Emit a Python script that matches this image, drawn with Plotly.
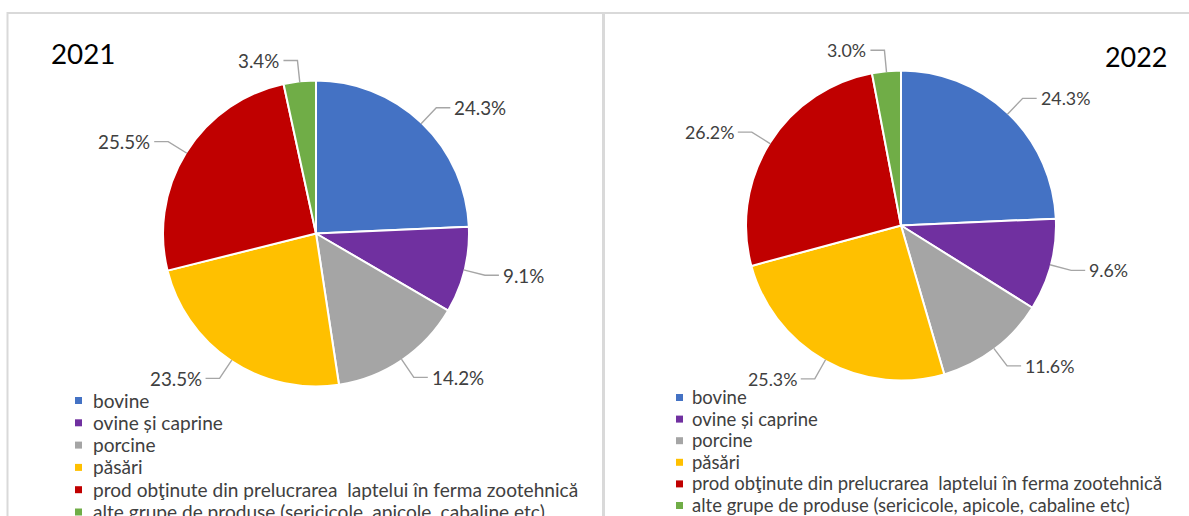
import math
import plotly.graph_objects as go

W, H = 1189, 516

categories = [
    "bovine",
    "ovine și caprine",
    "porcine",
    "păsări",
    "prod obţinute din prelucrarea  laptelui în ferma zootehnică",
    "alte grupe de produse (sericicole, apicole, cabaline etc)",
]
values_2021 = [24.3, 9.1, 14.2, 23.5, 25.5, 3.4]
values_2022 = [24.3, 9.6, 11.6, 25.3, 26.2, 3.0]
years = ["2021", "2022"]

colors = ["#4472C4", "#7030A0", "#A5A5A5", "#FFC000", "#C00000", "#70AD47"]
FONT = "Lato, 'Noto Sans', sans-serif"
TEXT_COLOR = "#404040"

# per-panel layout settings (pixels)
panels = [
    dict(cx=316, cy=233.5, r=153, label_size=18.8,
         title_x=83.5, title_y=53.5, title_size=27.8,
         leg_marker_x=75, leg_text_x=90.5, leg_y0=400, leg_dy=22.3, leg_size=19.1),
    dict(cx=901, cy=225.5, r=155, label_size=17.8,
         title_x=1135.5, title_y=56.5, title_size=26.9,
         leg_marker_x=676, leg_text_x=690, leg_y0=397, leg_dy=21.6, leg_size=18.5),
]


def px(x):
    return x / W


def py(y):
    return 1 - y / H


fig = go.Figure()
shapes = []
annotations = []

for i, (vals, P) in enumerate(zip([values_2021, values_2022], panels)):
    cx, cy, r = P["cx"], P["cy"], P["r"]
    fig.add_trace(go.Pie(
        labels=categories,
        values=vals,
        sort=False,
        direction="clockwise",
        rotation=0,
        textinfo="none",
        hoverinfo="label+percent",
        marker=dict(colors=colors, line=dict(color="white", width=2)),
        domain=dict(x=[px(cx - r), px(cx + r)], y=[py(cy + r), py(cy - r)]),
        showlegend=False,
    ))
    # data labels with leader lines
    total = sum(vals)
    cum = 0.0
    for v in vals:
        mid = (cum + v / 2) / total * 2 * math.pi
        cum += v
        dx, dy = math.sin(mid), -math.cos(mid)
        x0, y0 = cx + (r - 1) * dx, cy + (r - 1) * dy
        R = r + 21
        x1, y1 = cx + R * dx, cy + R * dy
        side = 1 if dx >= 0 else -1
        x2, y2 = x1 + side * 14, y1
        shapes.append(dict(
            type="path", xref="paper", yref="paper",
            path=f"M {px(x0)} {py(y0)} L {px(x1)} {py(y1)} L {px(x2)} {py(y2)}",
            line=dict(color="#A6A6A6", width=1.4),
        ))
        annotations.append(dict(
            x=px(x2 + side * 2), y=py(y2), xref="paper", yref="paper",
            text=f"{v:.1f}%", showarrow=False,
            xanchor="left" if side > 0 else "right", yanchor="middle",
            font=dict(family=FONT, size=P["label_size"], color=TEXT_COLOR),
        ))
    # year title
    annotations.append(dict(
        x=px(P["title_x"]), y=py(P["title_y"]), xref="paper", yref="paper",
        text=years[i], showarrow=False, xanchor="center", yanchor="middle",
        font=dict(family=FONT, size=P["title_size"], color="#000000"),
    ))
    # legend (one per panel)
    for k, (cat, col) in enumerate(zip(categories, colors)):
        yc = P["leg_y0"] + k * P["leg_dy"]
        mx = P["leg_marker_x"]
        shapes.append(dict(
            type="rect", xref="paper", yref="paper",
            x0=px(mx), x1=px(mx + 7), y0=py(yc + 4), y1=py(yc - 3),
            fillcolor=col, line=dict(width=0),
        ))
        annotations.append(dict(
            x=px(P["leg_text_x"]), y=py(yc), xref="paper", yref="paper",
            text=cat, showarrow=False, xanchor="left", yanchor="middle",
            font=dict(family=FONT, size=P["leg_size"], color=TEXT_COLOR),
        ))

# panel borders
shapes.append(dict(type="rect", xref="paper", yref="paper",
                   x0=px(7.5), x1=px(603), y0=py(540), y1=py(13),
                   line=dict(color="#D9D9D9", width=2), layer="below"))
shapes.append(dict(type="rect", xref="paper", yref="paper",
                   x0=px(604), x1=px(1210), y0=py(540), y1=py(13),
                   line=dict(color="#D9D9D9", width=2), layer="below"))

fig.update_layout(
    width=W, height=H,
    margin=dict(l=0, r=0, t=0, b=0),
    paper_bgcolor="white",
    plot_bgcolor="white",
    showlegend=False,
    shapes=shapes,
    annotations=annotations,
)

fig.write_html(
    "out.html",
    config={"displayModeBar": False},
    post_script="document.body.style.margin='0px';document.body.style.overflow='hidden';",
)
